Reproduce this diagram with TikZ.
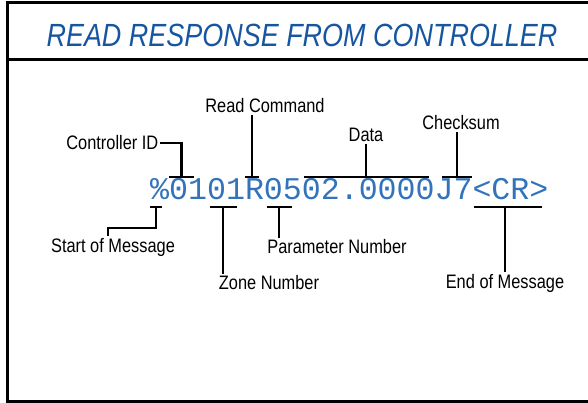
\documentclass[tikz,border=0pt]{standalone}
\usepackage{fontspec}
\setmainfont{Liberation Sans}
\newfontfamily\narrowfont[FakeStretch=0.84]{Liberation Sans}
\newfontfamily\codefont{Liberation Mono}
\usetikzlibrary{positioning,calc}
\definecolor{titleblue}{RGB}{22,86,160}
\definecolor{codeblue}{RGB}{50,115,188}

\begin{document}
\begin{tikzpicture}[x=1pt,y=-1pt,
    lbl/.style={font=\narrowfont\fontsize{19.5}{19.5}\selectfont, inner sep=1.5pt},
    bar/.style={fill=black, inner sep=0pt, minimum height=2.4pt},
    lead/.style={line width=2.4pt}]
    \useasboundingbox (0,0) rectangle (588,403);
    \draw[line width=3pt] (594,3) -- (7,3) -- (7,401) -- (594,401);
    \draw[line width=3pt] (7,60) -- (594,60);

    \node[font=\narrowfont\itshape\fontsize{32.1}{32.1}\selectfont, text=titleblue] (title) at (302,35) {READ RESPONSE FROM CONTROLLER};
    \node[anchor=base west, inner sep=0pt, font=\codefont\fontsize{31.6}{31.6}\selectfont, text=codeblue] (msg) at (150,200) {\%0101R0502.0000J7<CR>};

    % bars over the message
    \node[bar, minimum width=25pt] (cidbar) at (181.5,177) {};
    \node[bar, minimum width=14pt] (rcbar) at (252,177) {};
    \node[bar, minimum width=125pt] (databar) at (366,177) {};
    \node[bar, minimum width=30pt] (ckbar) at (457,177) {};
    % bars under the message
    \node[bar, minimum width=12pt] (sombar) at (156,207) {};
    \node[bar, minimum width=27pt] (zonebar) at (223,207) {};
    \node[bar, minimum width=25pt] (parbar) at (279,207) {};
    \node[bar, minimum width=68pt] (eombar) at (508,207) {};

    % labels
    \node[lbl, anchor=east] (cidlbl) at (160,143) {Controller ID};
    \node[lbl] (rclbl) at (265,106) {Read Command};
    \node[lbl] (datalbl) at (366,135) {Data};
    \node[lbl] (cklbl) at (461,123) {Checksum};
    \node[lbl] (somlbl) at (113,247) {Start of Message};
    \node[lbl] (zonelbl) at (269,283) {Zone Number};
    \node[lbl] (parlbl) at (337,247) {Parameter Number};
    \node[lbl] (eomlbl) at (505,283) {End of Message};

    \coordinate (somk) at (108,228);

    \draw[lead] (cidlbl.east) -- (cidlbl.east -| cidbar) -- (cidbar);
    \draw[lead] (rcbar) -- (rcbar |- rclbl.south);
    \draw[lead] (datalbl.south) -- (datalbl.south |- databar);
    \draw[lead] (ckbar) -- (ckbar |- cklbl.south);
    \draw[lead] (sombar) -- (sombar |- somk) -- (somk) -- (somk |- somlbl.north);
    \draw[lead] (zonebar) -- (zonebar |- zonelbl.north);
    \draw[lead] (parbar) -- (parbar |- parlbl.north);
    \draw[lead] (eomlbl.north) -- (eomlbl.north |- eombar);
\end{tikzpicture}
\end{document}
